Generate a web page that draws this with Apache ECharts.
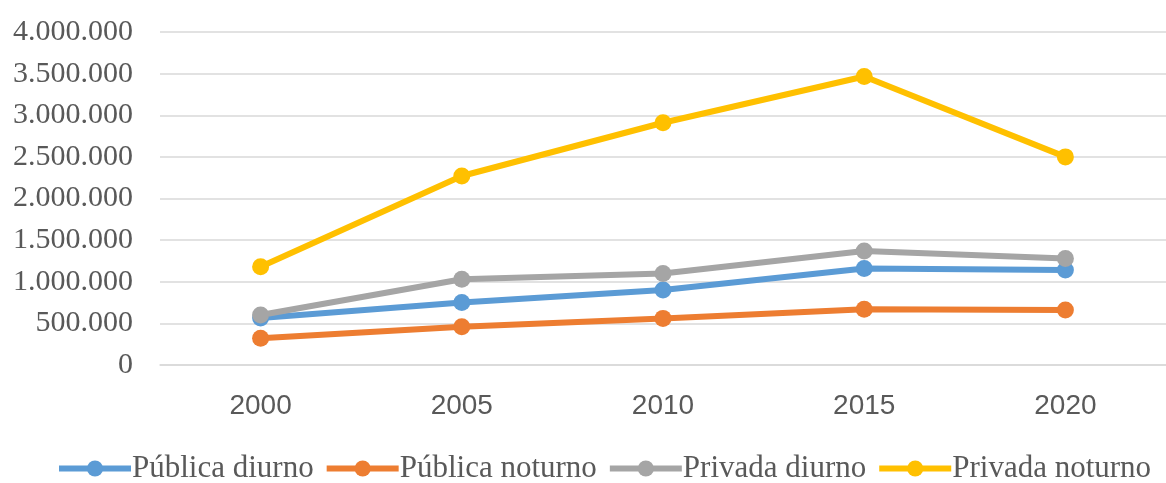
<!DOCTYPE html>
<html>
<head>
<meta charset="utf-8">
<script src="https://cdn.jsdelivr.net/npm/echarts@6/dist/echarts.min.js"></script>
<style>
  html, body { margin: 0; padding: 0; background: #ffffff; }
  #chart { width: 1166px; height: 483px; }
</style>
</head>
<body>
<div id="chart"></div>
<script>
// Matrículas por rede e turno
const years = ['2000', '2005', '2010', '2015', '2020'];
const publicaDiurno = [565000, 750000, 900000, 1160000, 1140000];
const publicaNoturno = [320000, 460000, 560000, 670000, 660000];
const privadaDiurno = [600000, 1030000, 1100000, 1370000, 1280000];
const privadaNoturno = [1180000, 2270000, 2910000, 3465000, 2500000];
const yTicks = [0, 500000, 1000000, 1500000, 2000000, 2500000, 3000000, 3500000, 4000000];

const textColor = '#595959';
const gridColor = '#d9d9d9';

function fmt(v) {
  return String(v).replace(/\B(?=(\d{3})+(?!\d))/g, '.');
}

function lineSeries(name, data, color) {
  return {
    name: name,
    type: 'line',
    data: data,
    symbol: 'circle',
    symbolSize: 17,
    lineStyle: { width: 6, color: color },
    itemStyle: { color: color },
    emphasis: { disabled: true },
    animation: false
  };
}

const chart = echarts.init(document.getElementById('chart'), null, { renderer: 'canvas' });
chart.setOption({
  backgroundColor: '#ffffff',
  animation: false,
  grid: { left: 160, top: 32, width: 1016, height: 333, containLabel: false },
  legend: {
    top: 448,
    left: 51,
    itemWidth: 72,
    itemHeight: 20,
    itemGap: 10,
    lineStyle: { width: 6 },
    textStyle: { fontFamily: 'Liberation Serif', fontSize: 31, color: textColor, padding: [0, 0, 0, -4] },
    data: ['Pública diurno', 'Pública noturno', 'Privada diurno', 'Privada noturno']
  },
  xAxis: {
    type: 'category',
    data: years,
    boundaryGap: true,
    axisLine: { show: true, lineStyle: { color: gridColor, width: 1.5 } },
    axisTick: { show: false },
    axisLabel: { fontFamily: 'Liberation Sans', fontSize: 28, color: textColor, margin: 27 }
  },
  yAxis: {
    type: 'value',
    min: yTicks[0],
    max: yTicks[yTicks.length - 1],
    interval: yTicks[1] - yTicks[0],
    axisLine: { show: false },
    axisTick: { show: false },
    splitLine: { lineStyle: { color: gridColor, width: 1.5 } },
    axisLabel: { fontFamily: 'Liberation Serif', fontSize: 30, color: textColor, margin: 27, formatter: fmt }
  },
  series: [
    lineSeries('Pública diurno', publicaDiurno, '#5b9bd5'),
    lineSeries('Pública noturno', publicaNoturno, '#ed7d31'),
    lineSeries('Privada diurno', privadaDiurno, '#a5a5a5'),
    lineSeries('Privada noturno', privadaNoturno, '#ffc000')
  ]
});
</script>
</body>
</html>
